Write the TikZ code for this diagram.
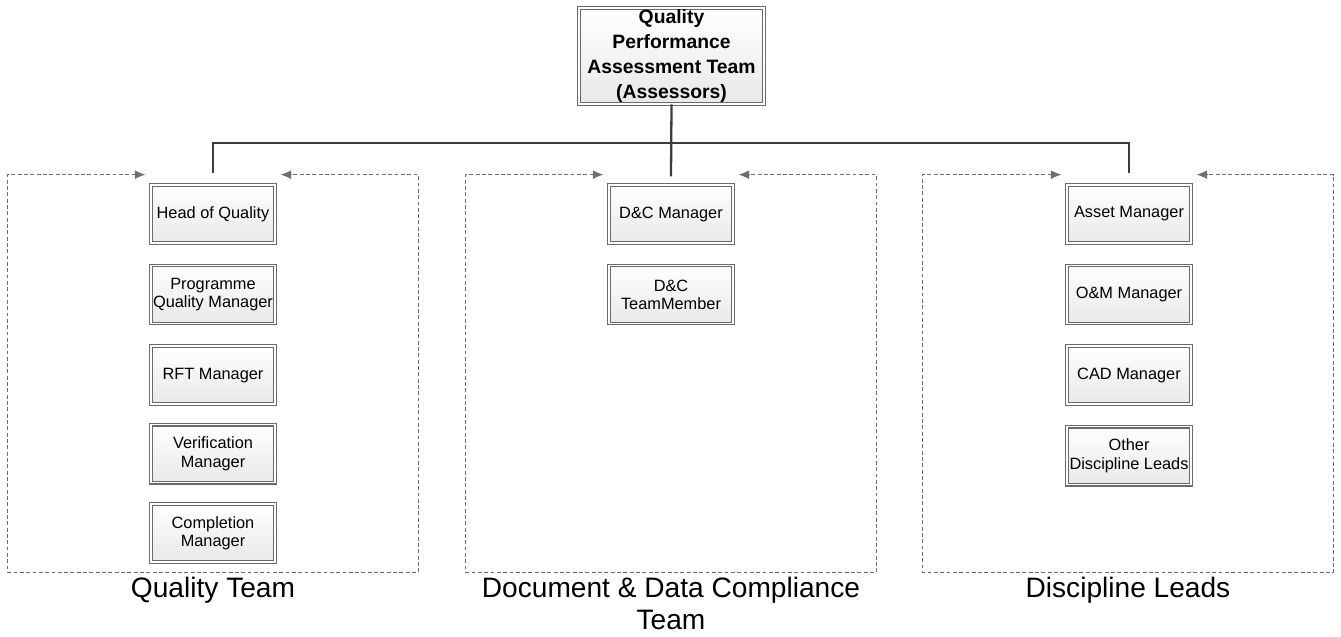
\documentclass[tikz,border=0pt]{standalone}
\usepackage{fontspec}
\setmainfont{Liberation Sans}
\usepackage{tikz}
\usetikzlibrary{positioning}
\usetikzlibrary{arrows.meta}
\usetikzlibrary{shadows}

\definecolor{boxline}{HTML}{6A6A6A}
\definecolor{busline}{HTML}{3C3C3C}
\definecolor{dashline}{HTML}{6E6E6E}

\tikzset{
  rolebox/.style={rectangle, draw=boxline, line width=.6pt, double=white, double distance=.9pt,
    top color=white, bottom color=black!9, minimum width=2.48cm, minimum height=1.16cm,
    align=center, inner sep=1pt, font=\fontsize{9.3}{10.4}\selectfont,
    drop shadow={opacity=.18, shadow xshift=.5pt, shadow yshift=-.5pt}},
  headbox/.style={rolebox, minimum width=3.7cm, minimum height=1.84cm,
    font=\fontsize{11}{14.1}\selectfont\bfseries},
  teamarea/.style={rectangle, minimum width=8.2cm, minimum height=7.94cm, inner sep=0pt},
  teamlabel/.style={align=center, inner sep=0pt, anchor=north, font=\fontsize{16}{18.4}\selectfont},
  bus/.style={draw=busline, line width=1.3pt},
  feedback/.style={draw=dashline, line width=.6pt, dash pattern=on 2.2pt off 1.4pt, {Latex[length=6pt,width=5pt]}-{Latex[length=6pt,width=5pt]}}
}

\begin{document}
\begin{tikzpicture}
\useasboundingbox (0,0) rectangle (26.82,-12.72);

% assessors
\node(qpat)[headbox] at (13.43,-1.12) {Quality\\Performance\\Assessment Team\\(Assessors)};

% team areas
\node(qteam)[teamarea] at (4.26,-7.47) {};
\node(dteam)[teamarea] at (13.42,-7.47) {};
\node(lteam)[teamarea] at (22.56,-7.47) {};

% quality team
\node(hoq)[rolebox] at (4.26,-4.28) {Head of Quality};
\node(pqm)[rolebox, below=0.43cm of hoq] {Programme\\Quality Manager};
\node(rft)[rolebox, below=0.43cm of pqm] {RFT Manager};
\node(vm)[rolebox, below=0.39cm of rft] {Verification\\Manager};
\node(cm)[rolebox, below=0.41cm of vm] {Completion\\Manager};

% document & data compliance team
\node(dcm)[rolebox] at (13.42,-4.28) {D\&C Manager};
\node(dct)[rolebox, below=0.43cm of dcm] {D\&C\\TeamMember};

% discipline leads
\node(am)[rolebox] at (22.58,-4.28) {Asset Manager};
\node(om)[rolebox, below=0.43cm of am] {O\&M Manager};
\node(cad)[rolebox, below=0.43cm of om] {CAD Manager};
\node(odl)[rolebox, below=0.43cm of cad] {Other\\Discipline Leads};

% labels
\node(qlab)[teamlabel, below=0.08cm of qteam.south] {Quality Team};
\node(dlab)[teamlabel, below=0.08cm of dteam.south] {Document \& Data Compliance\\Team};
\node(llab)[teamlabel, below=0.08cm of lteam.south] {Discipline Leads};

% reporting lines
\coordinate(busy) at (0,-2.86);
\draw[bus] (qpat.south) -- ([yshift=.16cm]dcm.north);
\draw[bus] ([yshift=.22cm]hoq.north) -- (hoq.north |- busy) -- (am.north |- busy) -- ([yshift=.22cm]am.north);

% feedback loops
\draw[feedback] ([xshift=-.1cm]hoq.west |- qteam.north) -- (qteam.north west) -- (qteam.south west)
  -- (qteam.south east) -- (qteam.north east) -- ([xshift=.1cm]hoq.east |- qteam.north);
\draw[feedback] ([xshift=-.1cm]dcm.west |- dteam.north) -- (dteam.north west) -- (dteam.south west)
  -- (dteam.south east) -- (dteam.north east) -- ([xshift=.1cm]dcm.east |- dteam.north);
\draw[feedback] ([xshift=-.1cm]am.west |- lteam.north) -- (lteam.north west) -- (lteam.south west)
  -- (lteam.south east) -- (lteam.north east) -- ([xshift=.1cm]am.east |- lteam.north);
\end{tikzpicture}
\end{document}
